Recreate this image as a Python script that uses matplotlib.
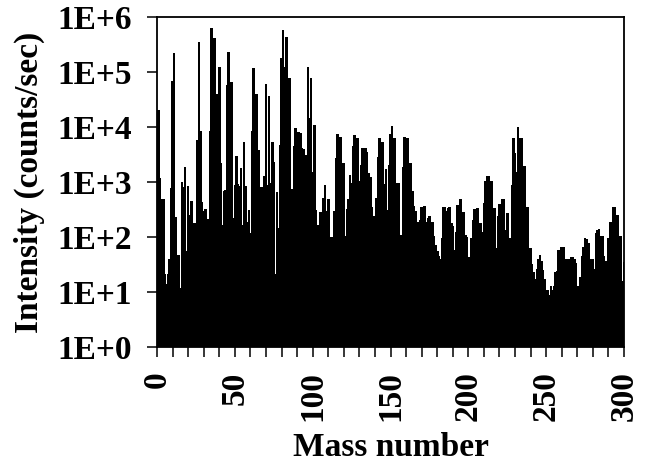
import matplotlib
matplotlib.use("Agg")
import matplotlib.pyplot as plt
from matplotlib.ticker import NullLocator

# counts/sec per mass number (mass 1 to 300)
intensity = [
    20000, 1200, 490, 490, 20, 13, 20, 38, 790, 70000,
    220000, 230, 11, 47, 11, 1000, 800, 1900, 54, 850,
    250, 450, 155, 175, 150, 5700, 350000, 8500, 440, 290,
    320, 155, 210, 8300, 620000, 23000, 410000, 6600, 40000, 125000,
    2200, 165, 690, 710, 58000, 230000, 22000, 66000, 220, 890,
    3000, 930, 850, 1800, 165, 5400, 850, 185, 310, 118,
    8500, 120000, 14500, 40000, 3800, 440, 800, 210, 1300, 60000,
    890, 36000, 950, 5400, 2300, 20, 660, 145, 4700, 180000,
    580000, 125000, 440000, 22000, 78000, 66, 740, 4600, 9600, 2200,
    8100, 7800, 4100, 4000, 400, 3100, 125000, 14500, 78000, 1550,
    11000, 310, 165, 125, 280, 220, 520, 890, 290, 490,
    54, 100, 85, 290, 2750, 7400, 2000, 6600, 630, 2200,
    105, 320, 480, 1350, 950, 4600, 7100, 4000, 6300, 1050,
    2050, 4200, 4000, 4100, 3500, 1450, 1250, 355, 240, 185,
    510, 2900, 6300, 2900, 5400, 910, 1700, 310, 2050, 7400,
    10500, 6300, 6300, 970, 970, 47, 110, 1900, 6600, 2200,
    6400, 1180, 2200, 690, 360, 290, 105, 190, 200, 350,
    200, 370, 190, 220, 240, 100, 190, 105, 71, 54,
    44, 38, 96, 355, 355, 300, 330, 355, 180, 155,
    58, 120, 380, 270, 490, 165, 280, 110, 100, 42,
    35, 96, 200, 320, 200, 340, 110, 175, 120, 410,
    1050, 1300, 1300, 1050, 1050, 340, 340, 63, 235, 400,
    355, 490, 500, 135, 275, 38, 96, 890, 6300, 3400,
    1500, 10000, 6300, 6300, 310, 1950, 350, 350, 63, 63,
    31, 22, 16, 25, 38, 46, 36, 24, 16, 8,
    10, 8, 12, 10, 12, 22, 23, 58, 33, 66,
    66, 35, 38, 23, 38, 43, 43, 38, 33, 12,
    11, 18, 44, 65, 96, 90, 76, 29, 38, 38,
    25, 118, 135, 140, 105, 105, 45, 35, 13, 96,
    190, 190, 350, 350, 250, 250, 105, 105, 15, 34,
]
mass = list(range(1, len(intensity) + 1))

x_major = [0, 50, 100, 150, 200, 250, 300]
x_minor = list(range(0, 301, 10))
y_ticks = [1, 10, 100, 1000, 10000, 100000, 1000000]
y_labels = ["1E+0", "1E+1", "1E+2", "1E+3", "1E+4", "1E+5", "1E+6"]

plt.rcParams["font.family"] = "Liberation Serif"
plt.rcParams["font.weight"] = "bold"

W, H = 647, 463
fig = plt.figure(figsize=(W / 100, H / 100), dpi=100)
ax = fig.add_axes([157 / W, 1 - 347 / H, (624 - 157) / W, (347 - 17) / H])

ax.bar(mass, intensity, width=1.7, bottom=1, color="black", linewidth=0)

ax.set_yscale("log")
ax.set_xlim(0, 300)
ax.set_ylim(1, 1000000)

ax.set_xticks(x_major)
ax.set_xticks(x_minor, minor=True)
ax.set_yticks(y_ticks)
ax.set_yticklabels(y_labels)
ax.yaxis.set_minor_locator(NullLocator())

ax.tick_params(axis="x", which="both", length=7.5, width=1.1, direction="out")
ax.tick_params(axis="y", length=7.5, width=1.1, direction="out", pad=10.5, labelsize=24)
ax.tick_params(axis="x", labelsize=24, labelrotation=90, pad=10)

for s in ax.spines.values():
    s.set_linewidth(1.3)

ax.set_xlabel("Mass number", fontsize=24, fontweight="bold", labelpad=8)
ax.set_ylabel("Intensity (counts/sec)", fontsize=24, fontweight="bold", labelpad=9)

fig.savefig("out.png", dpi=100)
